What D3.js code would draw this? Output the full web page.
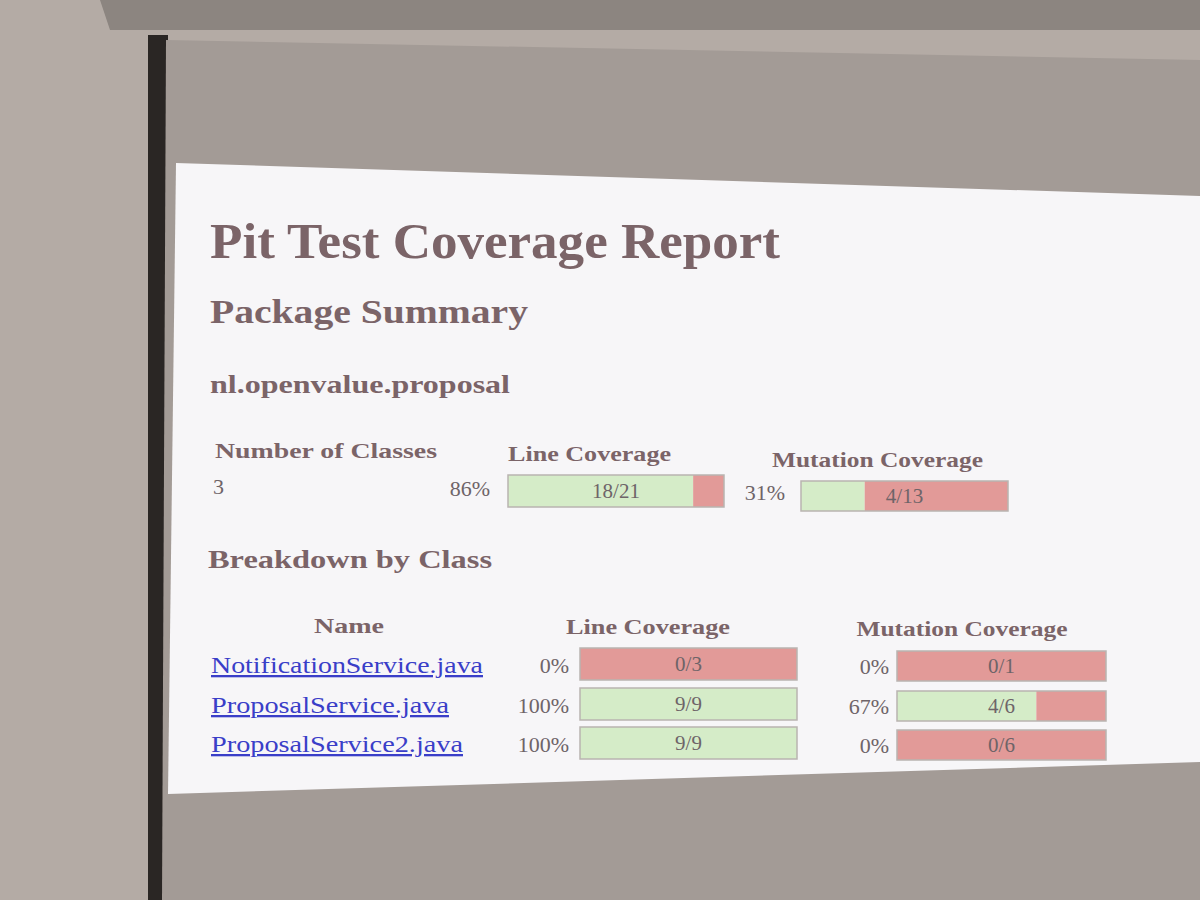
<!DOCTYPE html>
<html><head><meta charset="utf-8">
<script src="https://cdn.jsdelivr.net/npm/d3@7"></script>
<style>body{margin:0;background:#b3aaa4}svg{display:block}</style>
</head><body><svg id="c" width="1200" height="900"></svg>
<script>
const pkgName = "nl.openvalue.proposal";
const numClasses = 3;
const summaryLine = {covered:18,total:21};
const summaryMut = {covered:4,total:13};
const classNames = ["NotificationService.java","ProposalService.java","ProposalService2.java"];
const lineCovered = [0,9,9];
const lineTotal = [3,9,9];
const mutCovered = [0,4,0];
const mutTotal = [1,6,6];

const svg = d3.select("#c");
svg.append("rect").attr("width",1200).attr("height",900).attr("fill","#b4aba5");
svg.append("path").attr("d","M100,0L1200,0L1200,30L110,30Z").attr("fill","#8c8580");
svg.append("rect").attr("x",148).attr("y",35).attr("width",20).attr("height",865).attr("fill","#2a2624");
svg.append("path").attr("d","M166,40L1200,60L1200,900L162,900Z").attr("fill","#a39b96");
svg.append("path").attr("d","M176,163L1200,196L1200,762L168,794Z").attr("fill","#f7f6f8");

const head = "#7b6468", serif = "Liberation Serif, DejaVu Serif, serif";
function txt(x,y,s,size,opt={}){
  const t = svg.append("text").attr("x",x).attr("y",y).text(s)
    .attr("font-family",serif).attr("font-size",size)
    .attr("font-weight",opt.bold?"bold":"normal")
    .attr("text-anchor",opt.anchor||"start")
    .attr("fill",opt.fill||head)
    .attr("text-decoration",opt.u?"underline":null);
  if(opt.w) t.attr("textLength",opt.w).attr("lengthAdjust","spacingAndGlyphs");
  return t;
}
txt(210,258,"Pit Test Coverage Report",50,{bold:1,w:570});
txt(210,323,"Package Summary",34,{bold:1,w:318});
txt(210,393,pkgName,26,{bold:1,w:300});
txt(215,458,"Number of Classes",22,{bold:1,w:222});
txt(508,461,"Line Coverage",22,{bold:1,w:163});
txt(772,467,"Mutation Coverage",22,{bold:1,w:211});
txt(213,494,String(numClasses),22,{fill:"#6e6468"});

function bar(x0,x1,y,h,c,t){
  const s = d3.scaleLinear().domain([0,t]).range([x0,x1]);
  const g = svg.append("g");
  g.append("rect").attr("x",s(0)).attr("y",y).attr("width",s(c)-s(0)).attr("height",h).attr("fill","#d5ecc8");
  g.append("rect").attr("x",s(c)).attr("y",y).attr("width",s(t)-s(c)).attr("height",h).attr("fill","#e29a98");
  g.append("rect").attr("x",x0).attr("y",y).attr("width",x1-x0).attr("height",h).attr("fill","none").attr("stroke","#b9b4b0").attr("stroke-width",1.5);
  txt((x0+x1)/2, y+h/2+7, c+"/"+t, 21,{anchor:"middle",fill:"#6e6468"});
}
const pct=(c,t)=>Math.round(100*c/t)+"%";
txt(490,496,pct(summaryLine.covered,summaryLine.total),22,{anchor:"end",fill:"#6e6468"});
bar(508,724,475,32,summaryLine.covered,summaryLine.total);
txt(785,500,pct(summaryMut.covered,summaryMut.total),22,{anchor:"end",fill:"#6e6468"});
bar(801,1008,481,30,summaryMut.covered,summaryMut.total);

txt(208,568,"Breakdown by Class",26,{bold:1,w:284});
txt(349,633,"Name",22,{bold:1,anchor:"middle",w:70});
txt(648,634,"Line Coverage",22,{bold:1,anchor:"middle",w:164});
txt(962,636,"Mutation Coverage",22,{bold:1,anchor:"middle",w:211});

const rowY=[648,688,727];
const nameW=[272,238,252];
classNames.forEach((n,i)=>{
  const y=rowY[i];
  txt(211,y+25,n,23,{fill:"#3a3ec8",u:1,w:nameW[i]});
  txt(569,y+25,pct(lineCovered[i],lineTotal[i]),22,{anchor:"end",fill:"#6e6468"});
  bar(580,797,y,32,lineCovered[i],lineTotal[i]);
  txt(889,y+26,pct(mutCovered[i],mutTotal[i]),22,{anchor:"end",fill:"#6e6468"});
  bar(897,1106,y+3,30,mutCovered[i],mutTotal[i]);
});
</script></body></html>
